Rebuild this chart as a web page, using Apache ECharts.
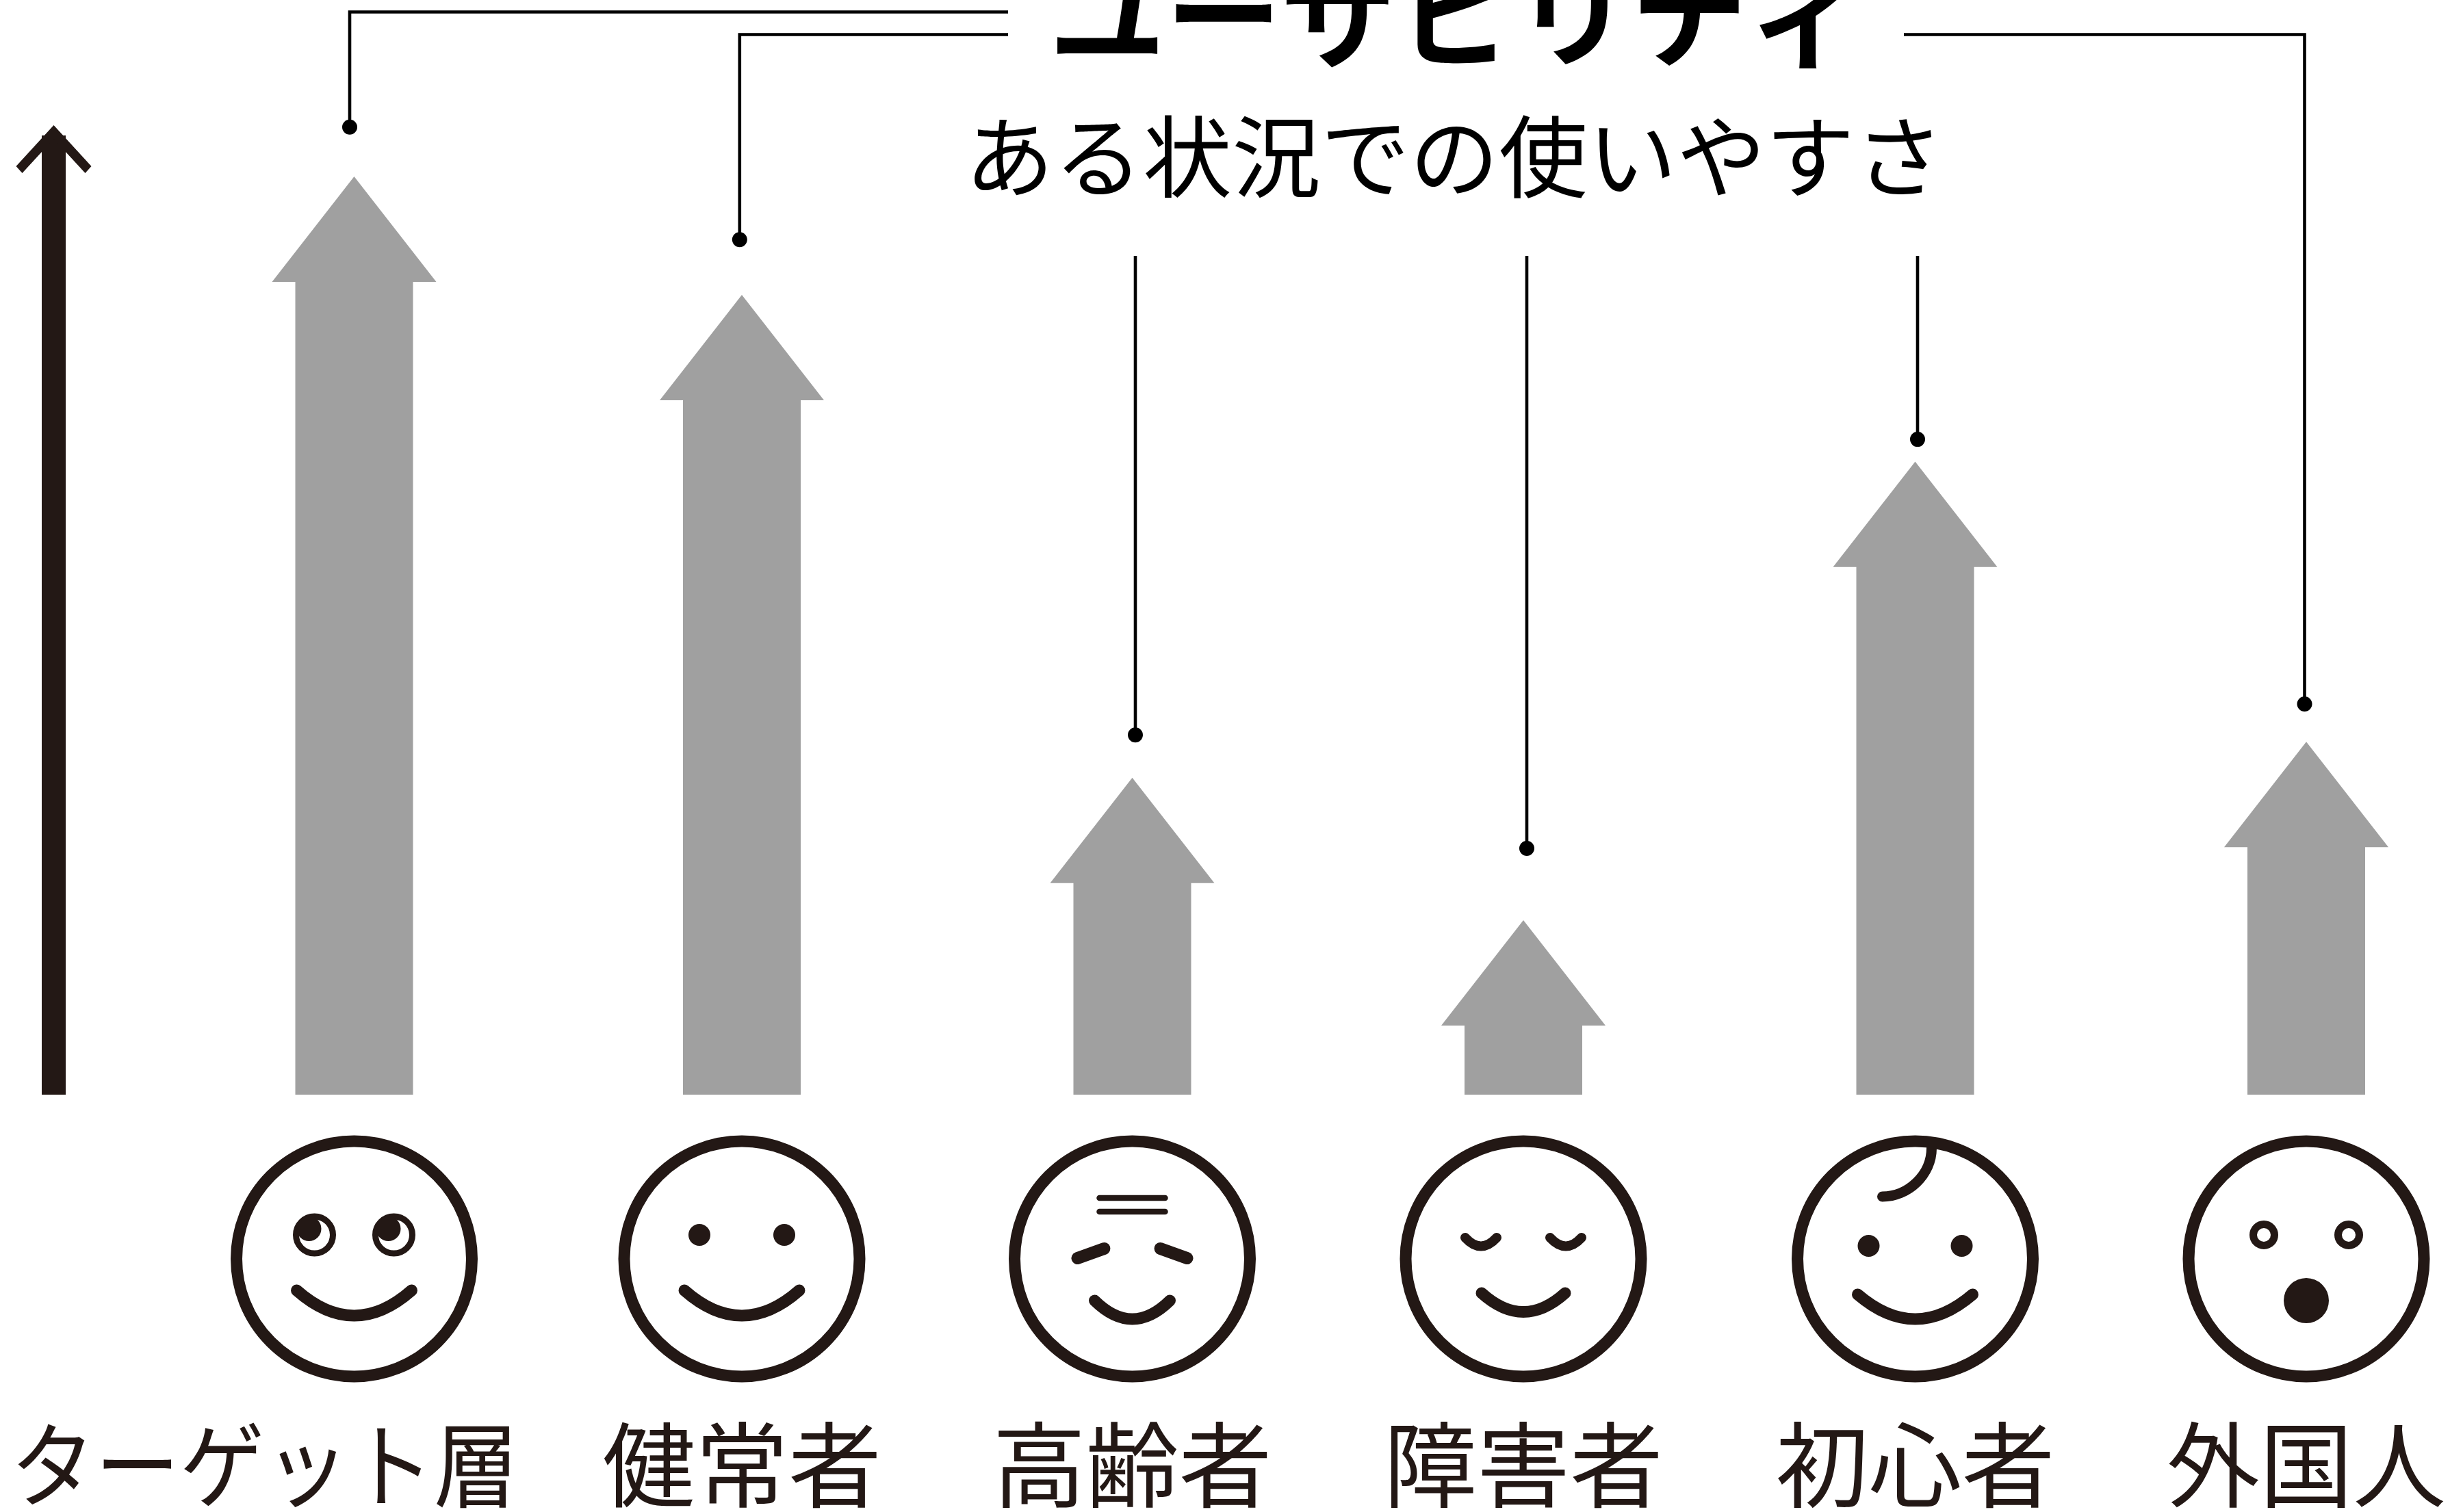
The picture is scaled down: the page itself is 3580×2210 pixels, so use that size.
<!DOCTYPE html>
<html lang="ja">
<head>
<meta charset="utf-8">
<title>ユーザビリティ</title>
<style>html,body{margin:0;padding:0;background:#fff}#chart{width:3580px;height:2210px}</style>
<script src="https://cdn.jsdelivr.net/npm/echarts@6/dist/echarts.min.js"></script>
</head>
<body>
<div id="chart"></div>
<script>
// ---- data ----
const categories = ['ターゲット層', '健常者', '高齢者', '障害者', '初心者', '外国人'];
const usability = [94.7, 82.5, 32.7, 18.0, 65.3, 36.4];
const calloutEnds = [99.8, 88.2, 37.1, 25.4, 67.6, 40.3];
const axisMax = 100;
const titleText = 'ユーザビリティ';
const subtitleText = 'ある状況での使いやすさ';

// ---- style and layout ----
const INK = '#231815', GREY = '#a0a0a0', FONT = '"Noto Sans CJK JP"';
const BASE_Y = 1600, TOP_Y = 183, PITCH = 571.5, FIRST_BAND_LEFT = 226.75;
const columnNudge = [5, 0, -1, -1, 0, 0];
const leaderOffset = [-6.5, -3.2, 4.5, 5, 3.5, -2.5];
const labelOffset = [-131, 0, 0, 0, 0, 0];
const labelScale = [0.91, 1, 1, 1, 1, 1];
const FACE_CY = 1840, FACE_R = 172, FACE_W = 17;

const stroke = (w) => ({ fill: 'none', stroke: INK, lineWidth: w, lineCap: 'round', lineJoin: 'round' });
const ring = (x, y, r, w) => ({ type: 'circle', shape: { cx: x, cy: y, r }, style: stroke(w) });
const dot = (x, y, r, c) => ({ type: 'circle', shape: { cx: x, cy: y, r }, style: { fill: c || INK } });
const seg = (x1, y1, x2, y2, w) => ({ type: 'line', shape: { x1, y1, x2, y2 }, style: stroke(w) });
const curve = (x1, y1, cx, cy, x2, y2, w) => ({ type: 'bezierCurve', shape: { x1, y1, cpx1: cx, cpy1: cy, x2, y2 }, style: stroke(w) });
const cubic = (x1, y1, a, b, c, d, x2, y2, w) => ({ type: 'bezierCurve', shape: { x1, y1, cpx1: a, cpy1: b, cpx2: c, cpy2: d, x2, y2 }, style: stroke(w) });

function faceParts(i, x) {
  const y = FACE_CY;
  const parts = [ring(x, y, FACE_R, FACE_W)];
  const smile = (half, top, ctrl, w) => curve(x - half, y + top, x, y + ctrl, x + half, y + top, w || 17);
  if (i === 0) {
    [-58, 58].forEach(d => {
      parts.push(ring(x + d, y - 35, 27, 9), dot(x + d - 8, y - 44, 18));
    });
    parts.push(smile(84, 46, 120));
  } else if (i === 1) {
    parts.push(dot(x - 62, y - 35, 16), dot(x + 62, y - 35, 16), smile(84, 46, 120));
  } else if (i === 2) {
    parts.push(seg(x - 48, y - 89, x + 48, y - 89, 8.5), seg(x - 48, y - 69, x + 48, y - 69, 8.5));
    parts.push(seg(x - 80, y - 1, x - 41, y - 15, 18), seg(x + 80, y - 1, x + 41, y - 15, 18));
    parts.push(smile(55, 61, 115));
  } else if (i === 3) {
    [-62, 62].forEach(d => parts.push(curve(x + d - 23, y - 31, x + d, y - 6, x + d + 23, y - 31, 14)));
    parts.push(smile(61, 50, 105));
  } else if (i === 4) {
    parts.push(cubic(x + 24, y - 162, x + 24, y - 123, x - 10, y - 91, x - 48, y - 91, 15));
    parts.push(dot(x - 68, y - 19, 16), dot(x + 68, y - 19, 16), smile(84, 52, 124));
  } else {
    parts.push(ring(x - 62, y - 35, 15.5, 11), ring(x + 62, y - 35, 15.5, 11), dot(x, y + 61, 33));
  }
  return parts;
}

function renderColumn(params, api) {
  const i = api.value(0);
  const base = api.coord([i, 0]);
  const tip = api.coord([i, api.value(1)]);
  const x = base[0] + columnNudge[i];
  const headY = tip[1] + 154;
  const arrow = {
    type: 'polygon',
    shape: { points: [[x, tip[1]], [x + 120, headY], [x + 86, headY], [x + 86, base[1]], [x - 86, base[1]], [x - 86, headY], [x - 120, headY]] },
    style: { fill: GREY }
  };
  const label = {
    type: 'text', x: x + labelOffset[i], y: 2141, scaleX: labelScale[i],
    style: { text: categories[i], font: 'normal 136px ' + FONT, fill: INK, textAlign: 'center', verticalAlign: 'middle', textBaseline: 'middle' }
  };
  return { type: 'group', children: [arrow].concat(faceParts(i, x), [label]) };
}

function renderLeader(params, api) {
  const i = api.value(0);
  const x = api.coord([i, 0])[0] + columnNudge[i] + leaderOffset[i];
  const end = api.coord([i, api.value(1)])[1];
  let pts;
  if (i === 0) pts = [[x, end], [x, 17.5], [1473, 17.5]];
  else if (i === 1) pts = [[x, end], [x, 50.5], [1473, 50.5]];
  else if (i === 5) pts = [[x, end], [x, 50.5], [2782, 50.5]];
  else pts = [[x, end], [x, 374]];
  return {
    type: 'group',
    children: [
      { type: 'polyline', shape: { points: pts }, style: { fill: 'none', stroke: '#000', lineWidth: 4.6, lineJoin: 'miter' } },
      { type: 'circle', shape: { cx: x, cy: end, r: 11 }, style: { fill: '#000' } }
    ]
  };
}

function renderAxisArrow(params, api) {
  const tip = api.coord([0, api.value(1)])[1];
  const base = api.coord([0, 0])[1];
  const x = 78.5;
  return {
    type: 'group',
    children: [
      { type: 'rect', shape: { x: x - 17.5, y: tip + 15, width: 35, height: base - tip - 15 }, style: { fill: INK } },
      { type: 'polygon', shape: { points: [[x, tip], [x + 55, tip + 60], [x + 46, tip + 70], [x, tip + 20], [x - 46, tip + 70], [x - 55, tip + 60]] }, style: { fill: INK } }
    ]
  };
}

const chart = echarts.init(document.getElementById('chart'), null, { renderer: 'canvas', width: 3580, height: 2210, devicePixelRatio: 1 });
chart.setOption({
  animation: false,
  backgroundColor: '#ffffff',
  title: [
    { text: titleText, left: 2128, top: -65, textAlign: 'center', padding: 0,
      textStyle: { fontFamily: FONT, fontWeight: 'bold', fontSize: 170, color: '#000', lineHeight: 170 } },
    { text: subtitleText, left: 2125, top: 164, textAlign: 'center', padding: 0,
      textStyle: { fontFamily: FONT, fontWeight: 'normal', fontSize: 130, color: '#000', lineHeight: 130 } }
  ],
  grid: { left: FIRST_BAND_LEFT, width: PITCH * 6, top: TOP_Y, height: BASE_Y - TOP_Y, outerBoundsMode: 'none' },
  xAxis: { type: 'category', data: categories, show: false },
  yAxis: { type: 'value', min: 0, max: axisMax, show: false },
  tooltip: { show: false },
  series: [
    { type: 'custom', name: 'ユーザビリティ', renderItem: renderColumn, silent: true, clip: false,
      data: usability.map((v, i) => [i, v]), encode: { x: 0, y: 1 } },
    { type: 'custom', name: 'leader', renderItem: renderLeader, silent: true, clip: false,
      data: calloutEnds.map((v, i) => [i, v]), encode: { x: 0, y: 1 } },
    { type: 'custom', name: 'axis', renderItem: renderAxisArrow, silent: true, clip: false,
      data: [[0, axisMax]], encode: { x: 0, y: 1 } }
  ]
});
</script>
</body>
</html>
